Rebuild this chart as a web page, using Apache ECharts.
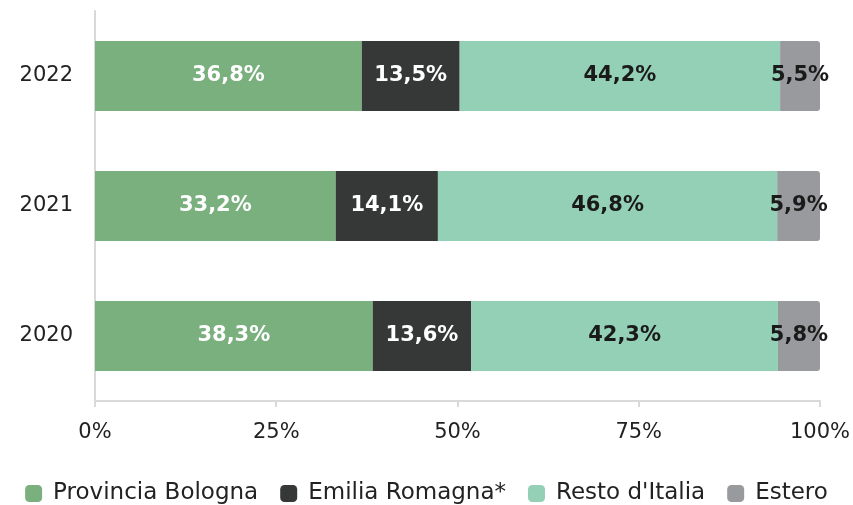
<!DOCTYPE html>
<html>
<head>
<meta charset="utf-8">
<script src="https://cdn.jsdelivr.net/npm/echarts@6/dist/echarts.min.js"></script>
<style>
    html, body { margin: 0; padding: 0; background: #fff; }
    #chart { width: 853px; height: 505px; }
</style>
</head>
<body>
<div id="chart"></div>
<script>
    // anni (dal basso verso l'alto)
    var years = ['2020', '2021', '2022'];
    var provinciaBologna = [38.3, 33.2, 36.8];
    var emiliaRomagna = [13.6, 14.1, 13.5];
    var restoItalia = [42.3, 46.8, 44.2];
    var estero = [5.8, 5.9, 5.5];

    var fontName = '"DejaVu Sans", sans-serif';

    function fmt(p) {
        return p.value.toFixed(1).replace('.', ',') + '%';
    }

    function makeSeries(name, data, color, labelColor, last) {
        return {
            name: name,
            type: 'bar',
            stack: 'tot',
            barWidth: 70,
            data: data,
            itemStyle: {
                color: color,
                borderRadius: last ? [0, 3, 3, 0] : 0
            },
            label: {
                show: true,
                position: 'inside',
                formatter: fmt,
                color: labelColor,
                fontFamily: fontName,
                fontWeight: 'bold',
                fontSize: 21
            }
        };
    }

    var myChart = echarts.init(document.getElementById('chart'));
    myChart.setOption({
        animation: false,
        textStyle: { fontFamily: fontName },
        grid: { left: 95, right: 32, top: 11, bottom: 104 },
        legend: {
            top: 477,
            left: 'center',
            itemWidth: 17,
            itemHeight: 17,
            itemGap: 22,
            icon: 'roundRect',
            textStyle: { fontSize: 23, color: '#222', fontFamily: fontName, padding: [0, 0, 0, 6] },
            data: ['Provincia Bologna', 'Emilia Romagna*', "Resto d'Italia", 'Estero']
        },
        xAxis: {
            type: 'value',
            min: 0,
            max: 100,
            interval: 25,
            axisLine: { show: true, lineStyle: { color: '#d9d9d9', width: 2 } },
            axisTick: { show: true, length: 6, lineStyle: { color: '#d9d9d9', width: 2 } },
            splitLine: { show: false },
            axisLabel: {
                formatter: '{value}%',
                fontSize: 21,
                color: '#222',
                margin: 21
            }
        },
        yAxis: {
            type: 'category',
            data: years,
            axisLine: { show: true, lineStyle: { color: '#d9d9d9', width: 2 } },
            axisTick: { show: false },
            axisLabel: { fontSize: 21, color: '#222', margin: 22 }
        },
        series: [
            makeSeries('Provincia Bologna', provinciaBologna, '#7aaf7e', '#ffffff', false),
            makeSeries('Emilia Romagna*', emiliaRomagna, '#363837', '#ffffff', false),
            makeSeries("Resto d'Italia", restoItalia, '#93d0b5', '#1a1a1a', false),
            makeSeries('Estero', estero, '#999a9e', '#1a1a1a', true)
        ]
    });
</script>
</body>
</html>
